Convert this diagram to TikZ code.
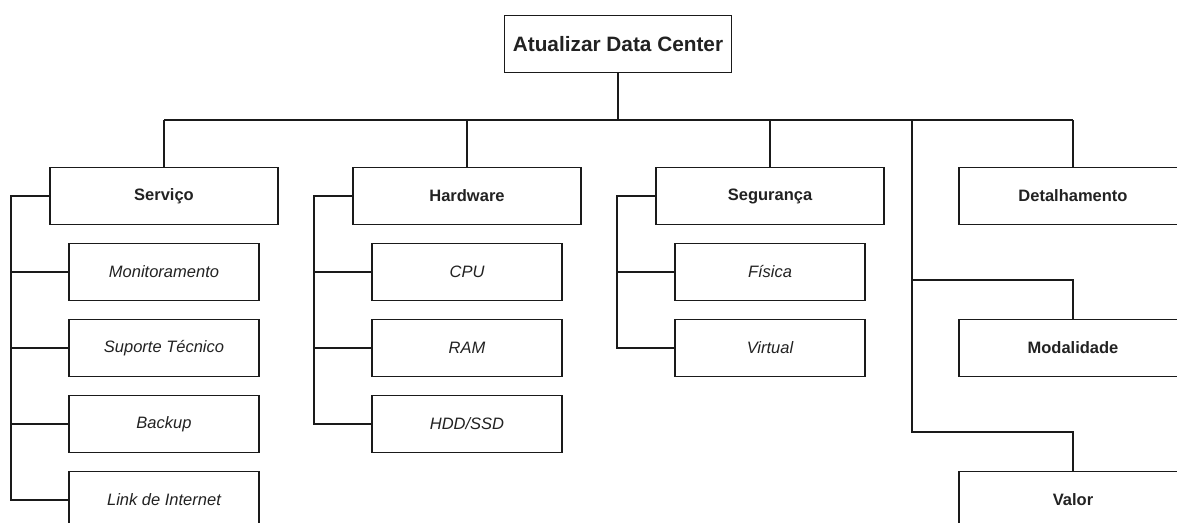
\documentclass[tikz,border=0pt]{standalone}
\usepackage{fontspec}
\setmainfont{Liberation Sans}
\usetikzlibrary{positioning}
\definecolor{ink}{HTML}{1A1A1A}
\definecolor{txt}{HTML}{222222}
\begin{document}
\begin{tikzpicture}[x=1pt,y=-1pt,
  box/.style={draw=ink,line width=1.8pt,rectangle,inner sep=0pt,
    minimum height=57pt,text=txt},
  rootbox/.style={box,minimum width=227pt,font=\fontsize{20.8}{24}\selectfont\bfseries},
  headbox/.style={box,minimum width=228pt,font=\fontsize{16.5}{20}\selectfont\bfseries},
  leafbox/.style={box,minimum width=190pt,font=\fontsize{16.5}{20}\selectfont\itshape},
  wire/.style={draw=ink,line width=1.8pt}]
\useasboundingbox (0,0) rectangle (1177,522);
\clip (0,0) rectangle (1177,522);
\fill[white] (0,0) rectangle (1177,522);

% root and first level
\node[rootbox] (root) at (618,44) {Atualizar Data Center};
\node[headbox] (srv) at (164,196) {Serviço};
\node[headbox] (hw)  at (467,196) {Hardware};
\node[headbox] (seg) at (770,196) {Segurança};
\node[headbox] (det) at (1073,196) {Detalhamento};
\node[headbox] (mod) at (1073,348) {Modalidade};
\node[headbox] (val) at (1073,500) {Valor};

% leaves
\node[leafbox] (mon) at (164,272) {Monitoramento};
\node[leafbox] (sup) at (164,348) {Suporte Técnico};
\node[leafbox] (bak) at (164,424) {Backup};
\node[leafbox] (lnk) at (164,500) {Link de Internet};
\node[leafbox] (cpu) at (467,272) {CPU};
\node[leafbox] (ram) at (467,348) {RAM};
\node[leafbox] (hdd) at (467,424) {HDD/SSD};
\node[leafbox] (fis) at (770,272) {Física};
\node[leafbox] (vir) at (770,348) {Virtual};

% bus under the root
\coordinate (bus) at (618,120);
\coordinate (rail) at (912,120);
\draw[wire] (root.south) -- (root.south |- bus);
\draw[wire] (srv.north |- bus) -- (det.north |- bus);
\foreach \n in {srv,hw,seg,det}
  \draw[wire] (\n.north |- bus) -- (\n.north);

% side rails to the leaves
\foreach \p/\kids in {srv/{mon,sup,bak,lnk},hw/{cpu,ram,hdd},seg/{fis,vir}}{
  \foreach \k in \kids
    \draw[wire] (\p.west) -- ++(-38.5,0) |- (\k.west);
}

% right-hand rail to Modalidade and Valor
\coordinate (modk) at ([yshift=38.5pt]mod.north);
\coordinate (valk) at ([yshift=39pt]val.north);
\draw[wire] (rail) -- (rail |- valk) -- (valk) -- (val.north);
\draw[wire] (rail |- modk) -- (modk) -- (mod.north);
\end{tikzpicture}
\end{document}
